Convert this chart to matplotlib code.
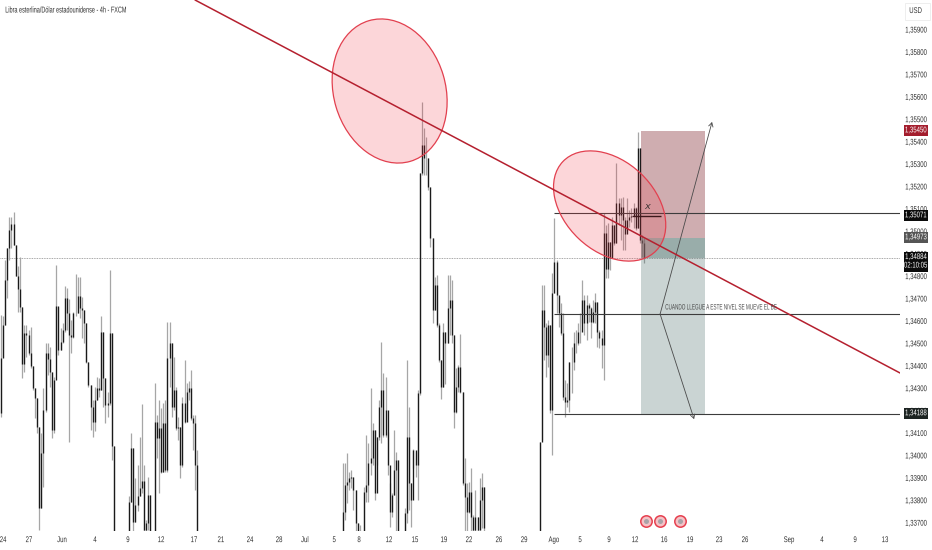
import matplotlib
matplotlib.use("Agg")
import matplotlib.pyplot as plt
import matplotlib.patheffects as path_effects
from matplotlib.patches import Ellipse, Rectangle
from matplotlib.transforms import Affine2D, IdentityTransform, blended_transform_factory

plt.rcParams['font.family'] = ['Liberation Sans', 'DejaVu Sans']

# candles. open of each bar is the close before it
may_start = 0
may_open = 1.34190
may_close = [1.34436, 1.34584, 1.34785, 1.34926, 1.35008, 1.35035, 1.34941, 1.34803, 1.34743, 1.34663,
             1.34410, 1.34550, 1.34540, 1.34458, 1.34399, 1.34302, 1.34257, 1.34131, 1.33767, 1.34012,
             1.34205, 1.34461, 1.34431, 1.34376, 1.34116, 1.34339, 1.34669, 1.34473, 1.34510, 1.34562,
             1.34703, 1.34636, 1.34540, 1.34532, 1.34636, 1.34636, 1.34714, 1.34659, 1.34651, 1.34595,
             1.34421, 1.34317, 1.34220, 1.34153, 1.34250, 1.34302, 1.34294, 1.34555, 1.34346, 1.34228,
             1.34235, 1.34547, 1.34042, 1.33506]
may_high = [1.34629, 1.34622, 1.34874, 1.34926, 1.35068, 1.35068, 1.35086, 1.34941, 1.34848, 1.34889,
            1.34663, 1.34584, 1.34584, 1.34562, 1.34577, 1.34399, 1.34302, 1.34257, 1.34131, 1.34101,
            1.34302, 1.34503, 1.34503, 1.34488, 1.34376, 1.34354, 1.34852, 1.34666, 1.34569, 1.34592,
            1.34758, 1.34748, 1.34699, 1.34607, 1.34644, 1.34812, 1.34800, 1.34800, 1.34711, 1.34651,
            1.34595, 1.34421, 1.34317, 1.34250, 1.34309, 1.34354, 1.34346, 1.34622, 1.34555, 1.34346,
            1.34287, 1.34830, 1.34547, 1.34042]
may_low = [1.34175, 1.34443, 1.34584, 1.34703, 1.34874, 1.34926, 1.34941, 1.34803, 1.34644, 1.34644,
           1.34346, 1.34376, 1.34443, 1.34451, 1.34391, 1.34294, 1.34168, 1.34101, 1.33670, 1.33767,
           1.33863, 1.34198, 1.34361, 1.34309, 1.34079, 1.34101, 1.34451, 1.34451, 1.34473, 1.34503,
           1.34555, 1.34562, 1.34064, 1.34458, 1.34525, 1.34622, 1.34636, 1.34614, 1.34525, 1.34503,
           1.34413, 1.34309, 1.34116, 1.34086, 1.34109, 1.34250, 1.34265, 1.34294, 1.34220, 1.34146,
           1.34175, 1.34228, 1.33982, 1.33506]

jun_start = 60
jun_open = 1.33506
jun_close = [1.33796, 1.34034, 1.33707, 1.33781, 1.33819, 1.33856, 1.33886, 1.33670, 1.33700, 1.33826,
             1.33655, 1.33506, 1.34153, 1.34079, 1.34123, 1.33930, 1.34146, 1.33938, 1.34436, 1.34503,
             1.34220, 1.34294, 1.34123, 1.34131, 1.33960, 1.34235, 1.34153, 1.34287, 1.34302, 1.34168,
             1.34146, 1.33960, 1.33506]
jun_high = [1.33819, 1.34101, 1.34034, 1.33900, 1.33960, 1.34083, 1.34232, 1.33960, 1.33714, 1.33908,
            1.33826, 1.33655, 1.34327, 1.34183, 1.34250, 1.34213, 1.34235, 1.34250, 1.34599, 1.34599,
            1.34503, 1.34443, 1.34309, 1.34175, 1.34131, 1.34265, 1.34428, 1.34324, 1.34332, 1.34384,
            1.34183, 1.34183, 1.34027]
jun_low = [1.33506, 1.33796, 1.33662, 1.33707, 1.33752, 1.33819, 1.33834, 1.33662, 1.33662, 1.33670,
           1.33506, 1.33506, 1.33506, 1.33990, 1.33834, 1.33923, 1.33930, 1.33930, 1.33930, 1.34309,
           1.34175, 1.34205, 1.34116, 1.34071, 1.33900, 1.33952, 1.34146, 1.34205, 1.34250, 1.34161,
           1.34027, 1.33848, 1.33506]

jul_start = 160
jul_open = 1.33550
jul_close = [1.33751, 1.33870, 1.33885, 1.33900, 1.33907, 1.33848, 1.33699, 1.33550, 1.33550, 1.33550,
             1.33840, 1.33870, 1.33967, 1.33989, 1.34115, 1.33833, 1.34085, 1.34219, 1.34294, 1.34093,
             1.34204, 1.33959, 1.33751, 1.33825, 1.33937, 1.33981, 1.33550, 1.33550, 1.33550, 1.33744,
             1.34085, 1.33877, 1.33803, 1.34026, 1.33959, 1.34279, 1.35260, 1.35387, 1.35327, 1.35327,
             1.35201, 1.34970, 1.34651, 1.34762, 1.34584, 1.34427, 1.34309, 1.34554, 1.34502, 1.34658,
             1.34695, 1.34539, 1.34197, 1.34309, 1.34398, 1.34286, 1.33877, 1.33818, 1.33751, 1.33840,
             1.33729, 1.33669, 1.33729, 1.33669, 1.33803, 1.33862, 1.33677]
jul_high = [1.33967, 1.33967, 1.34011, 1.33929, 1.33937, 1.33907, 1.33848, 1.33699, 1.33692, 1.33550,
            1.33862, 1.34093, 1.34056, 1.34301, 1.34145, 1.34115, 1.34085, 1.34249, 1.34509, 1.34368,
            1.34353, 1.34108, 1.33877, 1.33833, 1.34115, 1.34019, 1.33981, 1.33550, 1.33550, 1.33766,
            1.34427, 1.34219, 1.33877, 1.34033, 1.34019, 1.34294, 1.35260, 1.35580, 1.35461, 1.35424,
            1.35327, 1.35201, 1.34970, 1.34799, 1.34807, 1.34591, 1.34427, 1.34591, 1.34554, 1.34807,
            1.34807, 1.34784, 1.34539, 1.34390, 1.34405, 1.34546, 1.34286, 1.33989, 1.33877, 1.33885,
            1.33944, 1.33736, 1.33848, 1.33729, 1.33900, 1.33922, 1.33862]
jul_low = [1.33550, 1.33714, 1.33788, 1.33848, 1.33855, 1.33758, 1.33654, 1.33550, 1.33550, 1.33550,
           1.33550, 1.33796, 1.33796, 1.33914, 1.33959, 1.33803, 1.33959, 1.34071, 1.34056, 1.34085,
           1.34085, 1.33914, 1.33684, 1.33729, 1.33825, 1.33666, 1.33550, 1.33550, 1.33550, 1.33550,
           1.33699, 1.33758, 1.33684, 1.33944, 1.33907, 1.33803, 1.34271, 1.35253, 1.35253, 1.35253,
           1.35186, 1.34933, 1.34591, 1.34651, 1.34576, 1.34420, 1.34256, 1.34309, 1.34323, 1.34502,
           1.34539, 1.34502, 1.34123, 1.34190, 1.34286, 1.34279, 1.33870, 1.33666, 1.33666, 1.33744,
           1.33666, 1.33666, 1.33666, 1.33666, 1.33669, 1.33677, 1.33666]

ago_start = 252
ago_open = 1.33595
ago_close = [1.34064, 1.34651, 1.34577, 1.34450, 1.34584, 1.34205, 1.34726, 1.34865, 1.34718, 1.34636,
             1.34547, 1.34265, 1.34242, 1.34250, 1.34421, 1.34421, 1.34502, 1.34502, 1.34555, 1.34555,
             1.34696, 1.34592, 1.34673, 1.34659, 1.34599, 1.34644, 1.34688, 1.34555, 1.34525, 1.34495,
             1.34996, 1.34832, 1.34956, 1.34881, 1.35030, 1.34948, 1.35130, 1.35075, 1.35112, 1.35052,
             1.34990, 1.35052, 1.35067, 1.35070, 1.35104, 1.35015, 1.35372, 1.34963, 1.34948, 1.34881]
ago_high = [1.34064, 1.34763, 1.34763, 1.34592, 1.34607, 1.34584, 1.34815, 1.35062, 1.34874, 1.34711,
            1.34681, 1.34636, 1.34339, 1.34324, 1.34421, 1.34488, 1.34555, 1.34562, 1.34592, 1.34636,
            1.34785, 1.34718, 1.34718, 1.34681, 1.34666, 1.34696, 1.34726, 1.34688, 1.34562, 1.34562,
            1.35082, 1.35030, 1.35037, 1.34956, 1.35067, 1.35030, 1.35305, 1.35149, 1.35149, 1.35153,
            1.35067, 1.35149, 1.35097, 1.35104, 1.35127, 1.35112, 1.35446, 1.35372, 1.34985, 1.34970]
ago_low = [1.33670, 1.34071, 1.34428, 1.34354, 1.34398, 1.34190, 1.34004, 1.34726, 1.34636, 1.34577,
           1.34540, 1.34250, 1.34175, 1.34220, 1.34198, 1.34279, 1.34384, 1.34458, 1.34495, 1.34502,
           1.34592, 1.34540, 1.34517, 1.34599, 1.34525, 1.34592, 1.34592, 1.34488, 1.34480, 1.34391,
           1.34339, 1.34792, 1.34792, 1.34829, 1.34889, 1.34941, 1.34948, 1.35030, 1.34963, 1.34918,
           1.34918, 1.35008, 1.35023, 1.35045, 1.35015, 1.35008, 1.35015, 1.34948, 1.34889, 1.34859]

# axis labels
date_ticks = [1.1, 13.2, 28.7, 44.1, 59.5, 75, 90.4, 103, 116.6, 130.2, 142.3, 156, 167.6, 181.6, 193.8, 207.3,
              219, 233, 244.8, 258.8, 271, 284.5, 296.7, 310.3, 322.4, 336, 348.1, 368.7, 384.1, 399.6, 413.6]
date_labels = ['24', '27', 'Jun', '4', '9', '12', '17', '21', '24', '28', 'Jul', '5', '8', '12', '15', '19',
               '22', '26', '29', 'Ago', '5', '9', '12', '16', '19', '23', '26', 'Sep', '4', '9', '13']
price_ticks = [1.33700, 1.33800, 1.33900, 1.34000, 1.34100, 1.34200, 1.34300, 1.34400, 1.34500, 1.34600, 1.34700,
               1.34800, 1.34900, 1.35000, 1.35100, 1.35200, 1.35300, 1.35400, 1.35500, 1.35600, 1.35700, 1.35800,
               1.35900]

# the trade drawn on the chart
stop_price = 1.35450
entry_price = 1.34973
last_price = 1.34884
target_price = 1.34188
level_x = 1.35071
level_be = 1.34633
level_stop = 1.35083
trend_x = [90.9, 420.6]
trend_y = [1.36034, 1.34370]
tags = [(stop_price, '1,35450', '#a31d2d'), (level_x, '1,35071', '#0b0b0b'),
        (entry_price, '1,34973', '#555555'), (target_price, '1,34188', '#1d2422')]

DARK = '#1a1a1a'
WICK = '#a6a6a6'
LABEL = '#2e2e2e'


class Narrow(path_effects.AbstractPathEffect):
    """Squeeze a text sideways, there is no condensed font installed."""
    def __init__(self, factor=0.72, keep_left=False):
        super().__init__()
        self.factor = factor
        self.keep_left = keep_left

    def draw_path(self, renderer, gc, tpath, affine, rgbFace=None):
        box = tpath.get_extents()
        anchor = box.x0 if self.keep_left else (box.x0 + box.x1) / 2
        squeeze = Affine2D().translate(-anchor, 0).scale(self.factor, 1).translate(anchor, 0)
        renderer.draw_path(gc, tpath, squeeze + affine, rgbFace)


def draw_candles(ax, start, first_open, close, high, low):
    xs = [start + i for i in range(len(close))]
    opens = [first_open] + close[:-1]
    ax.vlines(xs, low, high, color=WICK, lw=0.9, zorder=2)
    ax.vlines(xs, opens, close, color=DARK, lw=0.95, zorder=3)


fig = plt.figure(figsize=(9.32, 5.5), dpi=100)
ax = fig.add_axes([0, 19 / 550, 900 / 932, 531 / 550])
ax.set_xlim(-0.33, 420.6)
ax.set_ylim(1.33665, 1.36034)
for side in ax.spines:
    ax.spines[side].set_visible(False)

draw_candles(ax, may_start, may_open, may_close, may_high, may_low)
draw_candles(ax, jun_start, jun_open, jun_close, jun_high, jun_low)
draw_candles(ax, jul_start, jul_open, jul_close, jul_high, jul_low)
draw_candles(ax, ago_start, ago_open, ago_close, ago_high, ago_low)

ax.yaxis.tick_right()
ax.set_yticks(price_ticks)
ax.set_yticklabels([f"{p:.5f}".replace('.', ',') for p in price_ticks], fontsize=6, color=LABEL)
ax.tick_params(axis='y', length=0, pad=0.7)
ax.set_xticks(date_ticks)
ax.set_xticklabels(date_labels, fontsize=6, color=LABEL)
ax.tick_params(axis='x', length=0, pad=4.4)
for label in ax.get_xticklabels() + ax.get_yticklabels():
    label.set_path_effects([Narrow()])

# last price
ax.axhline(last_price, color='#8a8a8a', lw=0.6, ls=(0, (1, 1)), zorder=1)

# risk / reward box
ax.add_patch(Rectangle((299.5, entry_price), 29.9, stop_price - entry_price,
                       fc=(120 / 255, 20 / 255, 30 / 255, 0.35), ec='none', zorder=4))
ax.add_patch(Rectangle((299.5, target_price), 29.9, entry_price - target_price,
                       fc=(80 / 255, 115 / 255, 110 / 255, 0.3), ec='none', zorder=4))
ax.add_patch(Rectangle((299.5, last_price), 29.9, entry_price - last_price,
                       fc=(80 / 255, 115 / 255, 110 / 255, 0.4), ec='none', zorder=4))

# horizontal levels
ax.hlines([level_stop, level_be, target_price], 258.8, 420.6, color='#3c3c3c', lw=0.8, zorder=5)
ax.hlines(level_x, 295.3, 308.8, color='#111111', lw=1.0, zorder=5)
ax.text(302.3, 1.35110, 'X', fontsize=6, style='italic', color='#222222', ha='center', va='center', zorder=7)
note = ax.text(310.7, 1.34660, 'CUANDO LLEGUE A ESTE NIVEL SE MUEVE EL BE', fontsize=5.6, color='#4a4a4a',
               ha='left', va='center', zorder=7)
note.set_path_effects([Narrow(0.6, keep_left=True)])

# arrows
ax.annotate('', xy=(332.7, 1.35490), xytext=(308.4, level_be), zorder=6,
            arrowprops=dict(arrowstyle='->,head_width=0.16,head_length=0.28', color='#4a4a4a', lw=0.6,
                            shrinkA=0, shrinkB=0))
ax.annotate('', xy=(324.3, 1.34164), xytext=(308.4, level_be), zorder=6,
            arrowprops=dict(arrowstyle='->,head_width=0.16,head_length=0.28', color='#4a4a4a', lw=0.6,
                            shrinkA=0, shrinkB=0))

# trend line
ax.plot(trend_x, trend_y, color='#b5202f', lw=1.1, zorder=6, solid_capstyle='round')

# ellipses (sized in pixels so the tilt stays right)
for cx, cy, major, minor, angle in [(181.9, 1.35628, 146.6, 111.8, 106.5), (284.8, 1.35115, 129, 90, 136.5)]:
    px, py = ax.transData.transform((cx, cy))
    ax.add_patch(Ellipse((px, py), major, minor, angle=angle, transform=IdentityTransform(),
                         fc=(242 / 255, 54 / 255, 69 / 255, 0.2), ec='#e2404f', lw=0.9, zorder=5))

# event icons at the bottom
ax.plot([301.8, 308.4, 317.7], [1.33709] * 3, ls='none', marker='o', ms=8.2, mfc='#f4c2c6', mec='#e6404f',
        mew=1.1, zorder=7)
ax.plot([301.8, 308.4, 317.7], [1.33709] * 3, ls='none', marker='o', ms=3.6, mfc='#a9a3a8', mec='none', zorder=8)

# header and price scale extras
title = fig.text(5 / 932, 1 - 11 / 550, 'Libra esterlina/Dólar estadounidense - 4h - FXCM', fontsize=6.1,
                 color='#2e2e2e', ha='left', va='center')
title.set_path_effects([Narrow(0.65, keep_left=True)])
fig.add_artist(Rectangle((905 / 932, 1 - 20 / 550), 25 / 932, 17 / 550, transform=fig.transFigure, fc='white',
                         ec='#eeeeee', lw=0.7))
usd = fig.text(915.5 / 932, 1 - 11.5 / 550, 'USD', fontsize=6, color='#333333', ha='center', va='center')
usd.set_path_effects([Narrow()])

# price tags sit on the scale: x in pixels, y in price
tag_trans = blended_transform_factory(IdentityTransform(), ax.transData)
tag_h = 0.00049
for price, label, colour in tags:
    ax.add_patch(Rectangle((904, price - tag_h / 2), 24, tag_h, transform=tag_trans, fc=colour, ec='none',
                           zorder=11, clip_on=False))
    tag = ax.text(916, price, label, transform=tag_trans, fontsize=6, color='white', ha='center', va='center',
                  zorder=12, clip_on=False)
    tag.set_path_effects([Narrow()])

ax.add_patch(Rectangle((904, last_price - 0.00062), 24, 0.00089, transform=tag_trans, fc='#0b0b0b', ec='none',
                       zorder=11, clip_on=False))
clock = ax.text(916, last_price - 0.00018, '1,34884\n02:10:05', transform=tag_trans, fontsize=6, color='white',
                ha='center', va='center', zorder=12, clip_on=False, linespacing=1.3)
clock.set_path_effects([Narrow()])

fig.savefig('out.png', dpi=100)
